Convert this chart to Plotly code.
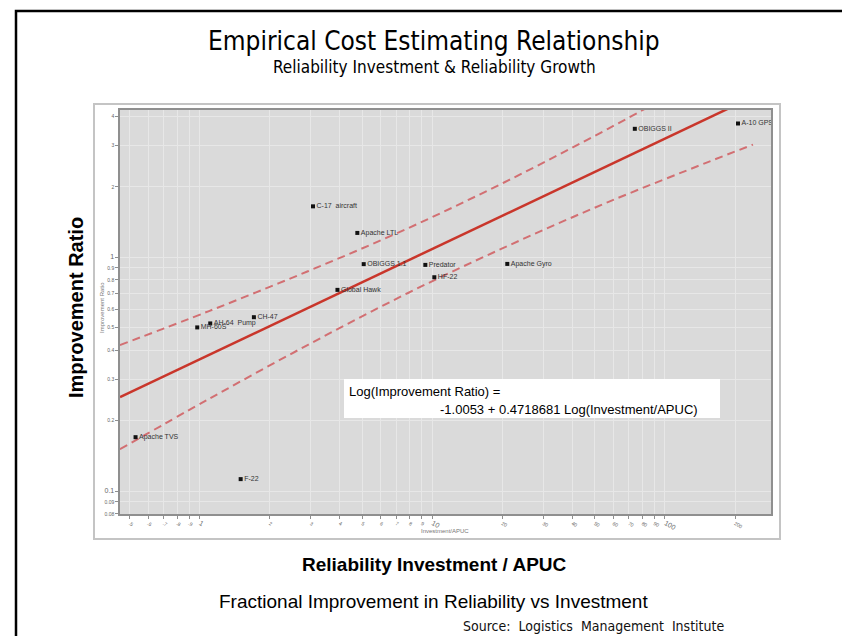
import math
import plotly.graph_objects as go

# ---------------- data ----------------
programs = ["C-17  aircraft", "Apache LTL", "OBIGGS 1.1", "Predator", "HF-22",
            "Apache Gyro", "OBIGGS II", "A-10 GPS", "Global Hawk", "CH-47",
            "AH-64  Pump", "MH-60S", "Apache TVS", "F-22"]
investment_apuc = [3.07, 4.76, 5.07, 9.33, 10.2, 21.0, 74.2, 206, 3.91, 1.71,
                   1.11, 0.976, 0.530, 1.50]
improvement_ratio = [1.65, 1.27, 0.934, 0.927, 0.821, 0.936, 3.54, 3.73, 0.725,
                     0.554, 0.521, 0.501, 0.170, 0.1125]

# fitted relation printed on the chart: ln(y) = a + b ln(x)
fit_intercept = -1.0053
fit_slope = 0.4718681
fit_x = [0.4544, 285.6]

# dashed confidence curves
upper_x = [0.454, 1.09, 2.92, 7.86, 21.2, 56.9, 153]
upper_y = [0.421, 0.587, 0.871, 1.33, 2.13, 3.54, 6.07]
lower_x = [0.454, 1.09, 2.92, 7.86, 21.2, 56.9, 153, 239]
lower_y = [0.151, 0.247, 0.422, 0.703, 1.12, 1.72, 2.55, 3.03]

x_tick_vals = [0.5, 0.6, 0.7, 0.8, 0.9, 1, 2, 3, 4, 5, 6, 7, 8, 9, 10,
               20, 30, 40, 50, 60, 70, 80, 90, 100, 200]
x_tick_text = [".5", ".6", ".7", ".8", ".9", "1", "2", "3", "4", "5", "6", "7",
               "8", "9", "10", "20", "30", "40", "50", "60", "70", "80", "90",
               "100", "200"]
x_major = ["1", "10", "100"]
y_tick_vals = [0.08, 0.09, 0.1, 0.2, 0.3, 0.4, 0.5, 0.6, 0.7, 0.8, 0.9, 1, 2, 3, 4]
y_tick_text = ["0.08", "0.09", "0.1", "0.2", "0.3", "0.4", "0.5", "0.6", "0.7",
               "0.8", "0.9", "1", "2", "3", "4"]
y_major = ["0.1", "1"]

x_range = [0.4544, 285.6]
y_range = [0.0798, 4.26]

# ---------------- layout geometry (pixels) ----------------
W, H = 850, 636
L, R, T, B = 112, 763, 102, 506


def px(x):
    return (x - L) / (R - L)


def py(y):
    return (B - y) / (B - T)


def fmt(labels, majors, big, small):
    out = []
    for t in labels:
        size = big if t in majors else small
        out.append('<span style="font-size:%spx">%s</span>' % (size, t))
    return out


fit_y = [math.exp(fit_intercept + fit_slope * math.log(v)) for v in fit_x]

RED = "#c9362b"
DASH_RED = "#d26f72"

fig = go.Figure()
fig.add_trace(go.Scatter(x=upper_x, y=upper_y, mode="lines", line_shape="spline",
                         line=dict(color=DASH_RED, width=2, dash="8px,5px"),
                         hoverinfo="skip", showlegend=False))
fig.add_trace(go.Scatter(x=lower_x, y=lower_y, mode="lines", line_shape="spline",
                         line=dict(color=DASH_RED, width=2, dash="8px,5px"),
                         hoverinfo="skip", showlegend=False))
fig.add_trace(go.Scatter(x=fit_x, y=fit_y, mode="lines",
                         line=dict(color=RED, width=2.5),
                         hoverinfo="skip", showlegend=False))
fig.add_trace(go.Scatter(x=investment_apuc, y=improvement_ratio, text=programs,
                         mode="markers+text", textposition="middle right",
                         marker=dict(symbol="square", size=4, color="#111"),
                         textfont=dict(family="Liberation Sans, Arial, sans-serif",
                                       size=7, color="#333"),
                         showlegend=False))

axis_common = dict(type="log", showgrid=True, gridcolor="#e7e7e7", gridwidth=1,
                   showline=True, mirror=True, linecolor="#8f8f8f", linewidth=1.5,
                   ticks="outside", ticklen=3, tickcolor="#8f8f8f", zeroline=False,
                   tickfont=dict(family="Liberation Sans, Arial, sans-serif",
                                 size=5, color="#666"))

fig.update_layout(
    width=W, height=H,
    margin=dict(l=L, r=W - R, t=T, b=H - B, pad=0),
    paper_bgcolor="white", plot_bgcolor="#dadada",
    xaxis=dict(range=[math.log10(x_range[0]), math.log10(x_range[1])],
               tickvals=x_tick_vals, ticktext=fmt(x_tick_text, x_major, 7, 5),
               **axis_common),
    yaxis=dict(range=[math.log10(y_range[0]), math.log10(y_range[1])],
               tickvals=y_tick_vals, ticktext=fmt(y_tick_text, y_major, 7, 5),
               **axis_common),
)

narrow = "Liberation Sans Narrow, Arial Narrow, DejaVu Sans Condensed, sans-serif"
arial = "Liberation Sans, Arial, Helvetica, sans-serif"

ann = [
    dict(text="Empirical Cost Estimating Relationship", x=px(426), y=py(33),
         font=dict(family=narrow, size=26, color="#000")),
    dict(text="Reliability Investment & Reliability Growth", x=px(426), y=py(59),
         font=dict(family=narrow, size=17, color="#000")),
    dict(text="<b>Improvement Ratio</b>", x=px(68), y=py(300), textangle=-90,
         font=dict(family=arial, size=20, color="#000")),
    dict(text="Improvement Ratio", x=px(94), y=py(300), textangle=-90,
         font=dict(family=arial, size=6, color="#777")),
    dict(text="Investment/APUC", x=px(437), y=py(523),
         font=dict(family=arial, size=6, color="#777")),
    dict(text="<b>Reliability Investment / APUC</b>", x=px(426), y=py(556),
         font=dict(family=arial, size=19, color="#000")),
    dict(text="Fractional Improvement in Reliability vs Investment", x=px(425),
         y=py(593), font=dict(family=arial, size=19, color="#000")),
    dict(text="Source:  Logistics  Management  Institute", x=px(585), y=py(618),
         font=dict(family=narrow, size=14, color="#111")),
    dict(text="Log(Improvement Ratio) =", x=px(339), y=py(383), xanchor="left",
         font=dict(family=arial, size=13, color="#000")),
    dict(text="-1.0053 + 0.4718681 Log(Investment/APUC)", x=px(430), y=py(401),
         xanchor="left", font=dict(family=arial, size=13, color="#000")),
]
for a in ann:
    a.setdefault("xanchor", "center")
    a.update(xref="paper", yref="paper", yanchor="middle", showarrow=False)
fig.update_layout(annotations=ann)

shapes = [
    # equation box
    dict(type="rect", x0=px(336), x1=px(712), y0=py(410), y1=py(371),
         fillcolor="white", line=dict(width=0), layer="above"),
    # embedded picture frame
    dict(type="rect", x0=px(86), x1=px(772), y0=py(531), y1=py(96),
         line=dict(color="#c4c4c4", width=2), layer="below"),
    # outer slide border
    dict(type="rect", x0=px(8), x1=px(848), y0=py(640), y1=py(3),
         line=dict(color="#000", width=2.5), layer="above"),
]
for s in shapes:
    s.update(xref="paper", yref="paper")
fig.update_layout(shapes=shapes)

fig.write_html("out.html")
